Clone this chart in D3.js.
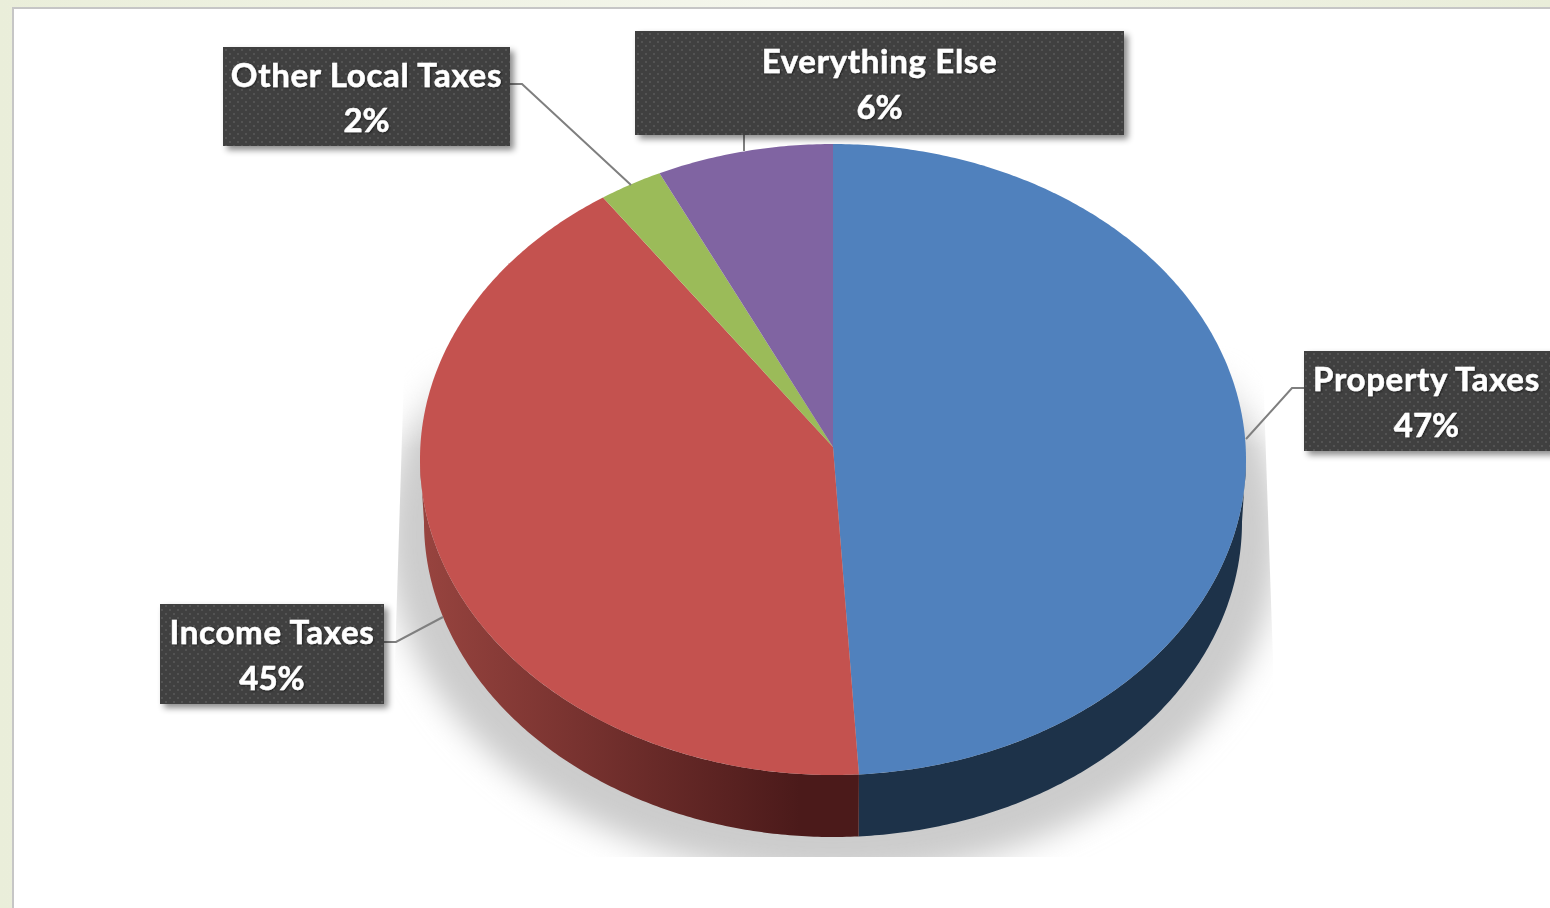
<!DOCTYPE html>
<html>
<head>
<meta charset="utf-8">
<script src="https://cdn.jsdelivr.net/npm/d3@7"></script>
<style>
    html, body { margin: 0; padding: 0; background: #fff; overflow: hidden; }
    svg { display: block; }
</style>
</head>
<body>
<div id="viz"></div>
<script>
const categories = ["Property Taxes", "Income Taxes", "Other Local Taxes", "Everything Else"];
// slice sizes as drawn in the picture, they differ a bit from the printed labels
const drawnShares = [49, 41.6, 2.5, 6.9];
const percentLabels = ["47%", "45%", "2%", "6%"];
const sliceColors = ["#5081bd", "#c4524f", "#9bbb59", "#8064a2"];

const width = 1550;
const height = 908;

const svg = d3.select("#viz").append("svg")
    .attr("width", width)
    .attr("height", height);

const defs = svg.append("defs");

// page background behind the white panel
const pageGrad = defs.append("linearGradient").attr("id", "pageGrad");
pageGrad.append("stop").attr("offset", "0%").attr("stop-color", "#eaeeda");
pageGrad.append("stop").attr("offset", "50%").attr("stop-color", "#f4f6ec");
pageGrad.append("stop").attr("offset", "100%").attr("stop-color", "#e9edd9");

// red wall gets darker towards the front
const sideGrad = defs.append("linearGradient")
    .attr("id", "sideGrad")
    .attr("gradientUnits", "userSpaceOnUse")
    .attr("x1", 420).attr("x2", 800).attr("y1", 0).attr("y2", 0);
sideGrad.append("stop").attr("offset", "0%").attr("stop-color", "#98443f");
sideGrad.append("stop").attr("offset", "100%").attr("stop-color", "#4b1a1a");

defs.append("filter").attr("id", "shadowBlur")
    .attr("x", "-10%").attr("y", "-10%").attr("width", "120%").attr("height", "120%")
    .append("feGaussianBlur").attr("stdDeviation", 15);

const boxShadow = defs.append("filter").attr("id", "boxShadow")
    .attr("x", "-5%").attr("y", "-10%").attr("width", "110%").attr("height", "125%");
boxShadow.append("feDropShadow")
    .attr("dx", 4).attr("dy", 4).attr("stdDeviation", 3)
    .attr("flood-color", "#000").attr("flood-opacity", 0.45);

const textShadow = defs.append("filter").attr("id", "textShadow")
    .attr("x", "-5%").attr("y", "-10%").attr("width", "110%").attr("height", "125%");
textShadow.append("feDropShadow")
    .attr("dx", 0.8).attr("dy", 0.8).attr("stdDeviation", 0.8)
    .attr("flood-color", "#000").attr("flood-opacity", 0.6);

const dots = defs.append("pattern")
    .attr("id", "dots")
    .attr("patternUnits", "userSpaceOnUse")
    .attr("width", 8).attr("height", 8);
dots.append("rect").attr("width", 8).attr("height", 8).attr("fill", "#404040");
dots.append("rect").attr("x", 1).attr("y", 1).attr("width", 2).attr("height", 2).attr("fill", "#525252");
dots.append("rect").attr("x", 5).attr("y", 5).attr("width", 2).attr("height", 2).attr("fill", "#525252");

// shadow is cut off by the plot area and fades out going up
defs.append("clipPath").attr("id", "shadowClip")
    .append("polygon")
    .attr("points", "405,340 395,660 395,857 1273,857 1273,660 1262,340");
const fade = defs.append("linearGradient")
    .attr("id", "fadeGrad")
    .attr("gradientUnits", "userSpaceOnUse")
    .attr("x1", 0).attr("x2", 0).attr("y1", 345).attr("y2", 450);
fade.append("stop").attr("offset", "0%").attr("stop-color", "#000");
fade.append("stop").attr("offset", "100%").attr("stop-color", "#fff");
defs.append("mask").attr("id", "shadowFade")
    .attr("maskUnits", "userSpaceOnUse")
    .attr("x", 0).attr("y", 0).attr("width", width).attr("height", height)
    .append("rect").attr("width", width).attr("height", height).attr("fill", "url(#fadeGrad)");

// background and panel
svg.append("rect").attr("width", width).attr("height", height).attr("fill", "url(#pageGrad)");
svg.append("rect")
    .attr("x", 13).attr("y", 8)
    .attr("width", width).attr("height", height)
    .attr("fill", "#fff")
    .attr("stroke", "#c6c6c6")
    .attr("stroke-width", 2);

// top face and lower rim of the disc, both in unit circle coordinates
const topX = d3.scaleLinear().domain([-1, 1]).range([420, 1246]);
const topY = d3.scaleLinear().domain([-1, 1]).range([144, 775]);
const rimX = d3.scaleLinear().domain([-1, 1]).range([424, 1242]);
const rimY = d3.scaleLinear().domain([-1, 1]).range([207, 837]);
// the apex sits above the ellipse centre because of the tilt
const apex = [topX(0), topY(-0.04)];

const slices = d3.pie().sort(null).value(d => d)(drawnShares)
    .map((s, i) => ({ ...s, i }));

const line = d3.line();
const angles = (a0, a1) => {
    const n = Math.max(2, Math.ceil((a1 - a0) / 0.01));
    return d3.range(n + 1).map(k => a0 + (a1 - a0) * k / n);
};
const onTop = a => [topX(Math.sin(a)), topY(-Math.cos(a))];
const onRim = a => [rimX(Math.sin(a)), rimY(-Math.cos(a))];

// shadow
svg.append("g")
    .attr("clip-path", "url(#shadowClip)")
    .append("g")
    .attr("mask", "url(#shadowFade)")
    .append("ellipse")
    .attr("cx", topX(0))
    .attr("cy", 535)
    .attr("rx", 446)
    .attr("ry", 342)
    .attr("fill", "#cccccc")
    .attr("filter", "url(#shadowBlur)");

// side wall, only the part of each slice that faces the viewer
const sideColors = ["#1d3249", "url(#sideGrad)"];
svg.append("g").selectAll("path")
    .data(slices.filter(s => s.startAngle < 1.5 * Math.PI && s.endAngle > Math.PI / 2))
    .join("path")
    .attr("fill", d => sideColors[d.i])
    .attr("d", d => {
        const a = angles(Math.max(d.startAngle, Math.PI / 2), Math.min(d.endAngle, 1.5 * Math.PI));
        return line(a.map(onTop).concat(a.slice().reverse().map(onRim))) + "Z";
    });

// top face
svg.append("g").selectAll("path")
    .data(slices)
    .join("path")
    .attr("fill", d => sliceColors[d.i])
    .attr("d", d => line([apex].concat(angles(d.startAngle, d.endAngle).map(onTop))) + "Z");

// data labels, in slice order
const labelBoxes = [
    { x: 1304, y: 351, w: 248, h: 100, leader: [[1304, 388], [1292, 388], [1246, 439]], line1: 391, line2: 437 },
    { x: 160, y: 604, w: 224, h: 100, leader: [[384, 642], [396, 642], [443, 617]], line1: 644, line2: 690 },
    { x: 223, y: 47, w: 287, h: 99, leader: [[510, 84], [522, 84], [631, 185]], line1: 87, line2: 132 },
    { x: 635, y: 31, w: 489, h: 104, leader: [[744, 135], [744, 151]], line1: 73, line2: 119 }
];

svg.append("g").selectAll("path")
    .data(labelBoxes)
    .join("path")
    .attr("d", d => line(d.leader))
    .attr("fill", "none")
    .attr("stroke", "#7f7f7f")
    .attr("stroke-width", 2);

const label = svg.append("g").selectAll("g")
    .data(labelBoxes)
    .join("g");

label.append("rect")
    .attr("x", d => d.x)
    .attr("y", d => d.y)
    .attr("width", d => d.w)
    .attr("height", d => d.h)
    .attr("fill", "url(#dots)")
    .attr("filter", "url(#boxShadow)");

const textGroup = label.append("g")
    .attr("filter", "url(#textShadow)")
    .attr("font-family", "Lato, 'Open Sans', sans-serif")
    .attr("font-weight", 700)
    .attr("font-size", 33)
    .attr("fill", "#fff")
    .attr("stroke", "#fff")
    .attr("stroke-width", 0.5)
    .attr("text-anchor", "middle");

textGroup.append("text")
    .attr("x", (d, i) => i === 0 ? 1426.5 : d.x + d.w / 2)
    .attr("y", d => d.line1)
    .attr("letter-spacing", 0.7)
    .text((d, i) => categories[i]);

textGroup.append("text")
    .attr("x", (d, i) => i === 0 ? 1426.5 : d.x + d.w / 2)
    .attr("y", d => d.line2)
    .text((d, i) => percentLabels[i]);
</script>
</body>
</html>
